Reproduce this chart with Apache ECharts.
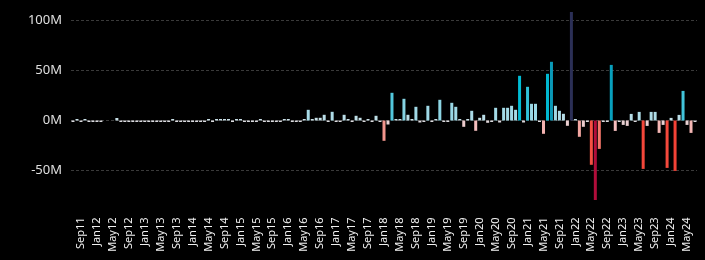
<!DOCTYPE html>
<html>
<head>
<meta charset="utf-8">
<script src="https://cdn.jsdelivr.net/npm/echarts@6/dist/echarts.min.js"></script>
<style>
  html, body { margin: 0; padding: 0; background: #000; }
  #chart { width: 705px; height: 260px; }
</style>
</head>
<body>
<div id="chart"></div>
<script>
// monthly categories, Jul 2011 .. Jul 2024
var months = [
    'Jul11','Aug11','Sep11','Oct11','Nov11','Dec11',
    'Jan12','Feb12','Mar12','Apr12','May12','Jun12','Jul12','Aug12','Sep12','Oct12','Nov12','Dec12',
    'Jan13','Feb13','Mar13','Apr13','May13','Jun13','Jul13','Aug13','Sep13','Oct13','Nov13','Dec13',
    'Jan14','Feb14','Mar14','Apr14','May14','Jun14','Jul14','Aug14','Sep14','Oct14','Nov14','Dec14',
    'Jan15','Feb15','Mar15','Apr15','May15','Jun15','Jul15','Aug15','Sep15','Oct15','Nov15','Dec15',
    'Jan16','Feb16','Mar16','Apr16','May16','Jun16','Jul16','Aug16','Sep16','Oct16','Nov16','Dec16',
    'Jan17','Feb17','Mar17','Apr17','May17','Jun17','Jul17','Aug17','Sep17','Oct17','Nov17','Dec17',
    'Jan18','Feb18','Mar18','Apr18','May18','Jun18','Jul18','Aug18','Sep18','Oct18','Nov18','Dec18',
    'Jan19','Feb19','Mar19','Apr19','May19','Jun19','Jul19','Aug19','Sep19','Oct19','Nov19','Dec19',
    'Jan20','Feb20','Mar20','Apr20','May20','Jun20','Jul20','Aug20','Sep20','Oct20','Nov20','Dec20',
    'Jan21','Feb21','Mar21','Apr21','May21','Jun21','Jul21','Aug21','Sep21','Oct21','Nov21','Dec21',
    'Jan22','Feb22','Mar22','Apr22','May22','Jun22','Jul22','Aug22','Sep22','Oct22','Nov22','Dec22',
    'Jan23','Feb23','Mar23','Apr23','May23','Jun23','Jul23','Aug23','Sep23','Oct23','Nov23','Dec23',
    'Jan24','Feb24','Mar24','Apr24','May24','Jun24','Jul24'
];

// net flow, millions
var flows = [
    -1.5, 1.5, -1.5, 1.5, -1.5, -1.5,
    -1.5, -1.5, 0, 0, 0, 2.5, -1.5, -1.5, -1.5, -1.5, -1.5, -1.5,
    -1.5, -1.5, -1.5, -1.5, -1.5, -1.5, -1.5, 1.5, -1.5, -1.5, -1.5, -1.5,
    -1.5, -1.5, -1.5, -1.5, 1.5, -1.5, 1.5, 1.5, 1.5, 1.5, -1.5, 1.5,
    1.5, -1.5, -1.5, -1.5, -1.5, 1.5, -1.5, -1.5, -1.5, -1.5, -1.5, 1.5,
    1.5, -1.5, -1.5, -1.5, 1.5, 10.7, 1.5, 2.7, 2.7, 5.7, -1.5, 8.7,
    -1.5, -1.5, 5.7, 1.5, -1.5, 4.7, 2.7, -1.5, 1.5, -1.5, 4.7, -1.5,
    -20.3, -4, 27.7, 1.5, 1.5, 21.7, 5.7, 1.5, 13.7, -2, -1.5, 14.7,
    -1.5, 1.5, 20.7, -1.5, -1.5, 17.7, 13.7, 1.5, -6.3, 1.5, 9.7, -10.3,
    2.7, 5.7, -2.3, -1.5, 12.7, -2, 12.7, 12.7, 14.7, 10.7, 44.7, -2,
    33.7, 16.7, 16.7, -1.5, -13.3, 46.7, 58.7, 14.7, 9.7, 6.7, -5.3, 108.5,
    1.5, -16.3, -6.3, -1.5, -44.3, -79.5, -28.4, -1.5, -1.5, 55.6, -10.4, -1.5,
    -4.4, -5.4, 6.6, -1.5, 8.6, -48.4, -5.4, 8.6, 8.6, -12.4, -4.4, -47.4,
    2.6, -50.4, 5.6, 29.6, -4.4, -12.4, -1.5
];

// colour ramp by value
var ramp = [
    [-80, '#b00c3a'],
    [-50, '#f44336'],
    [-28, '#f4776a'],
    [-20, '#f2968e'],
    [-10, '#f5c0c0'],
    [-3, '#e6d6d8'],
    [0, '#cfe0e6'],
    [10, '#a9dbe7'],
    [20, '#93d6e4'],
    [30, '#3fc3da'],
    [45, '#00bcd4'],
    [58, '#0a9ab8'],
    [108, '#2b2f56']
];

function hex2rgb(h) {
    return [parseInt(h.substr(1, 2), 16), parseInt(h.substr(3, 2), 16), parseInt(h.substr(5, 2), 16)];
}
function rampColor(v) {
    if (v <= ramp[0][0]) return ramp[0][1];
    for (var i = 1; i < ramp.length; i++) {
        if (v <= ramp[i][0]) {
            var t = (v - ramp[i - 1][0]) / (ramp[i][0] - ramp[i - 1][0]);
            var a = hex2rgb(ramp[i - 1][1]), b = hex2rgb(ramp[i][1]);
            return 'rgb(' + [0, 1, 2].map(function (k) { return Math.round(a[k] + (b[k] - a[k]) * t); }).join(',') + ')';
        }
    }
    return ramp[ramp.length - 1][1];
}

var chart = echarts.init(document.getElementById('chart'));

var option = {
    backgroundColor: '#000',
    animation: false,
    grid: {
        left: 71,
        right: 8,
        top: 12,
        bottom: 59.5
    },
    xAxis: {
        type: 'category',
        data: months,
        axisLine: { show: false },
        axisTick: { show: false },
        axisLabel: {
            rotate: 90,
            margin: 17,
            color: '#f0f0f0',
            fontSize: 11,
            fontFamily: 'Noto Sans',
            interval: function (index) { return index % 4 === 2; }
        }
    },
    yAxis: {
        type: 'value',
        min: -80,
        max: 108.5,
        splitNumber: 4,
        axisLine: { show: false },
        axisTick: { show: false },
        axisLabel: {
            showMinLabel: false,
            showMaxLabel: false,
            margin: 9,
            color: '#e0e0e0',
            fontSize: 13,
            fontFamily: 'Noto Sans',
            formatter: function (v) { return v + 'M'; }
        },
        splitLine: {
            showMinLine: false,
            showMaxLine: false,
            lineStyle: { color: '#3a3a3a', type: [3, 2], width: 1 }
        }
    },
    series: [
        {
            type: 'bar',
            barWidth: 3,
            data: flows,
            itemStyle: {
                color: function (p) { return rampColor(p.value); }
            }
        }
    ]
};

chart.setOption(option);
</script>
</body>
</html>
